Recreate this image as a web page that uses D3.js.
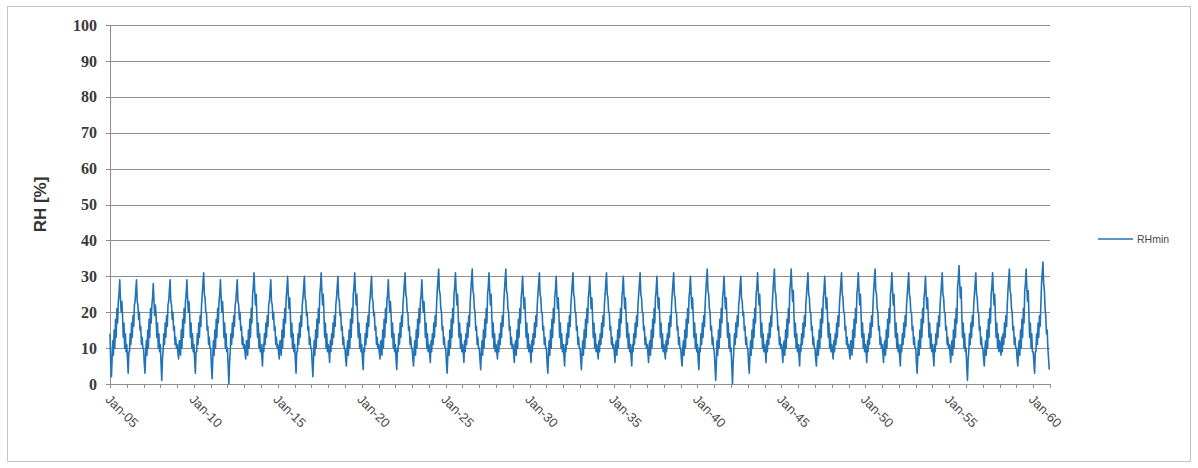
<!DOCTYPE html>
<html>
<head>
<meta charset="utf-8">
<script src="https://cdn.jsdelivr.net/npm/d3@7"></script>
<style>
  body { margin: 0; background: #fff; }
  svg { display: block; }
</style>
</head>
<body>
<svg id="chart" width="1198" height="468"></svg>
<script>
// Minimum relative humidity, two readings per month (1st and 16th), one row per year from 2005.
const startYear = 2005;
const seriesName = "RHmin";
const yTicks = [0, 10, 20, 30, 40, 50, 60, 70, 80, 90, 100];
const labelYears = [2005, 2010, 2015, 2020, 2025, 2030, 2035, 2040, 2045, 2050, 2055, 2060];
const yTitle = "RH [%]";

const rhMin = [
  [14, 6, 2, 7, 12, 8, 15, 10, 18, 13, 21, 17, 23, 25, 29, 24, 20, 23, 19, 13, 17, 10, 14, 9], // 2005
  [11, 7, 3, 9, 9, 14, 11, 17, 13, 19, 16, 22, 23, 26, 29, 23, 22, 18, 20, 15, 16, 11, 13, 10],
  [10, 6, 3, 8, 12, 8, 15, 10, 18, 13, 21, 17, 22, 24, 28, 23, 19, 22, 19, 13, 17, 10, 14, 9],
  [11, 6, 1, 7, 9, 14, 11, 17, 13, 19, 16, 22, 23, 26, 29, 23, 22, 18, 20, 15, 16, 11, 13, 10],
  [11, 9, 7, 12, 12, 8, 15, 10, 18, 13, 21, 17, 23, 25, 29, 24, 20, 23, 19, 13, 17, 10, 14, 9],
  [11, 7, 3, 9, 9, 14, 11, 17, 13, 19, 16, 22, 25, 28, 31, 25, 24, 20, 20, 15, 16, 11, 13, 10], // 2010
  [10, 5, 1.5, 7, 12, 8, 15, 10, 18, 13, 21, 17, 23, 25, 29, 24, 20, 23, 19, 13, 17, 10, 14, 9],
  [10, 5, 0, 6, 9, 14, 11, 17, 13, 19, 16, 22, 23, 26, 29, 23, 22, 18, 20, 15, 16, 11, 13, 10],
  [11, 9, 7, 12, 12, 8, 15, 10, 18, 13, 21, 17, 25, 27, 31, 26, 22, 25, 19, 13, 17, 10, 14, 9],
  [11, 8, 5, 11, 9, 14, 11, 17, 13, 19, 16, 22, 23, 26, 29, 23, 22, 18, 20, 15, 16, 11, 13, 10],
  [11, 9, 7, 12, 12, 8, 15, 10, 18, 13, 21, 17, 24, 26, 30, 25, 21, 24, 19, 13, 17, 10, 14, 9], // 2015
  [11, 7, 3, 9, 9, 14, 11, 17, 13, 19, 16, 22, 24, 27, 30, 24, 23, 19, 20, 15, 16, 11, 13, 10],
  [10, 6, 2, 7, 12, 8, 15, 10, 18, 13, 21, 17, 25, 27, 31, 26, 22, 25, 19, 13, 17, 10, 14, 9],
  [11, 9, 6, 12, 9, 14, 11, 17, 13, 19, 16, 22, 24, 27, 30, 24, 23, 19, 20, 15, 16, 11, 13, 10],
  [10, 7, 5, 10, 12, 8, 15, 10, 18, 13, 21, 17, 25, 27, 31, 26, 22, 25, 19, 13, 17, 10, 14, 9],
  [11, 7, 4, 10, 9, 14, 11, 17, 13, 19, 16, 22, 24, 27, 30, 24, 23, 19, 20, 15, 16, 11, 13, 10], // 2020
  [11, 9, 7, 12, 12, 8, 15, 10, 18, 13, 21, 17, 23, 25, 29, 24, 20, 23, 19, 13, 17, 10, 14, 9],
  [11, 7, 4, 10, 9, 14, 11, 17, 13, 19, 16, 22, 25, 28, 31, 25, 24, 20, 20, 15, 16, 11, 13, 10],
  [10, 7, 5, 10, 12, 8, 15, 10, 18, 13, 21, 17, 23, 25, 29, 24, 20, 23, 19, 13, 17, 10, 14, 9],
  [11, 9, 6, 12, 9, 14, 11, 17, 13, 19, 16, 22, 26, 29, 32, 26, 25, 21, 20, 15, 16, 11, 13, 10],
  [10, 6, 3, 8, 12, 8, 15, 10, 18, 13, 21, 17, 25, 27, 31, 26, 22, 25, 19, 13, 17, 10, 14, 9], // 2025
  [11, 9, 6, 12, 9, 14, 11, 17, 13, 19, 16, 22, 26, 29, 32, 26, 25, 21, 20, 15, 16, 11, 13, 10],
  [10, 7, 4, 9, 12, 8, 15, 10, 18, 13, 21, 17, 25, 27, 31, 26, 22, 25, 19, 13, 17, 10, 14, 9],
  [11, 9, 7, 12, 9, 14, 11, 17, 13, 19, 16, 22, 26, 29, 32, 26, 25, 21, 20, 15, 16, 11, 13, 10],
  [11, 9, 6, 11, 12, 8, 15, 10, 18, 13, 21, 17, 24, 26, 30, 25, 21, 24, 19, 13, 17, 10, 14, 9],
  [11, 9, 6, 12, 9, 14, 11, 17, 13, 19, 16, 22, 25, 28, 31, 25, 24, 20, 20, 15, 16, 11, 13, 10], // 2030
  [10, 6, 3, 8, 12, 8, 15, 10, 18, 13, 21, 17, 24, 26, 30, 25, 21, 24, 19, 13, 17, 10, 14, 9],
  [11, 8, 5, 11, 9, 14, 11, 17, 13, 19, 16, 22, 25, 28, 31, 25, 24, 20, 20, 15, 16, 11, 13, 10],
  [10, 7, 4, 9, 12, 8, 15, 10, 18, 13, 21, 17, 24, 26, 30, 25, 21, 24, 19, 13, 17, 10, 14, 9],
  [11, 9, 7, 12, 9, 14, 11, 17, 13, 19, 16, 22, 25, 28, 31, 25, 24, 20, 20, 15, 16, 11, 13, 10],
  [11, 9, 6, 11, 12, 8, 15, 10, 18, 13, 21, 17, 24, 26, 30, 25, 21, 24, 19, 13, 17, 10, 14, 9], // 2035
  [11, 8, 5, 11, 9, 14, 11, 17, 13, 19, 16, 22, 25, 28, 31, 25, 24, 20, 20, 15, 16, 11, 13, 10],
  [11, 9, 6, 11, 12, 8, 15, 10, 18, 13, 21, 17, 24, 26, 30, 25, 21, 24, 19, 13, 17, 10, 14, 9],
  [11, 9, 7, 12, 9, 14, 11, 17, 13, 19, 16, 22, 25, 28, 31, 25, 24, 20, 20, 15, 16, 11, 13, 10],
  [10, 7, 5, 10, 12, 8, 15, 10, 18, 13, 21, 17, 24, 26, 30, 25, 21, 24, 19, 13, 17, 10, 14, 9],
  [11, 7, 4, 10, 9, 14, 11, 17, 13, 19, 16, 22, 26, 29, 32, 26, 25, 21, 20, 15, 16, 11, 13, 10], // 2040
  [9, 5, 1, 6, 12, 8, 15, 10, 18, 13, 21, 17, 24, 26, 30, 25, 21, 24, 19, 13, 17, 10, 14, 9],
  [10, 5, 0, 6, 9, 14, 11, 17, 13, 19, 16, 22, 24, 27, 30, 24, 23, 19, 20, 15, 16, 11, 13, 10],
  [10, 6, 3, 8, 12, 8, 15, 10, 18, 13, 21, 17, 25, 27, 31, 26, 22, 25, 19, 13, 17, 10, 14, 9],
  [11, 9, 6, 12, 9, 14, 11, 17, 13, 19, 16, 22, 26, 29, 32, 26, 25, 21, 20, 15, 16, 11, 13, 10],
  [11, 9, 6, 11, 12, 8, 15, 10, 18, 13, 21, 17, 26, 28, 32, 27, 23, 26, 19, 13, 17, 10, 14, 9], // 2045
  [11, 8, 5, 11, 9, 14, 11, 17, 13, 19, 16, 22, 25, 28, 31, 25, 24, 20, 20, 15, 16, 11, 13, 10],
  [10, 7, 5, 10, 12, 8, 15, 10, 18, 13, 21, 17, 24, 26, 30, 25, 21, 24, 19, 13, 17, 10, 14, 9],
  [11, 9, 7, 12, 9, 14, 11, 17, 13, 19, 16, 22, 25, 28, 31, 25, 24, 20, 20, 15, 16, 11, 13, 10],
  [11, 9, 7, 12, 12, 8, 15, 10, 18, 13, 21, 17, 25, 27, 31, 26, 22, 25, 19, 13, 17, 10, 14, 9],
  [11, 9, 6, 12, 9, 14, 11, 17, 13, 19, 16, 22, 26, 29, 32, 26, 25, 21, 20, 15, 16, 11, 13, 10], // 2050
  [11, 9, 6, 11, 12, 8, 15, 10, 18, 13, 21, 17, 25, 27, 31, 26, 22, 25, 19, 13, 17, 10, 14, 9],
  [11, 8, 5, 11, 9, 14, 11, 17, 13, 19, 16, 22, 25, 28, 31, 25, 24, 20, 20, 15, 16, 11, 13, 10],
  [10, 6, 3, 8, 12, 8, 15, 10, 18, 13, 21, 17, 24, 26, 30, 25, 21, 24, 19, 13, 17, 10, 14, 9],
  [11, 8, 5, 11, 9, 14, 11, 17, 13, 19, 16, 22, 25, 28, 31, 25, 24, 20, 20, 15, 16, 11, 13, 10],
  [11, 9, 6, 11, 12, 8, 15, 10, 18, 13, 21, 17, 27, 29, 33, 28, 24, 27, 19, 13, 17, 10, 14, 9], // 2055
  [10, 5, 1, 7, 9, 14, 11, 17, 13, 19, 16, 22, 25, 28, 31, 25, 24, 20, 20, 15, 16, 11, 13, 10],
  [10, 7, 5, 10, 12, 8, 15, 10, 18, 13, 21, 17, 25, 27, 31, 26, 22, 25, 19, 13, 17, 10, 14, 9],
  [12, 10, 8, 13, 9, 14, 11, 17, 13, 19, 16, 22, 26, 29, 32, 26, 25, 21, 20, 15, 16, 11, 13, 10],
  [10, 7, 5, 10, 12, 8, 15, 10, 18, 13, 21, 17, 26, 28, 32, 27, 23, 26, 19, 13, 17, 10, 14, 9],
  [9, 6, 3, 9, 9, 14, 11, 17, 13, 19, 16, 22, 28, 31, 34, 28, 26, 21, 19, 14, 15, 10, 7, 4]  // 2060
];

const W = 1198, H = 468;
const plot = { left: 110, right: 1050, top: 25, bottom: 384 };
const lineColor = "#2272b6";

const svg = d3.select("#chart");

// chart frame
svg.append("rect")
  .attr("x", 7.5).attr("y", 6.5)
  .attr("width", W - 15).attr("height", H - 13)
  .attr("fill", "#fff").attr("stroke", "#c4c4c4");

const endYear = startYear + rhMin.length;
const x = d3.scaleTime()
  .domain([new Date(startYear, 0, 1), new Date(endYear, 0, 1)])
  .range([plot.left, plot.right]);
const y = d3.scaleLinear().domain([0, 100]).range([plot.bottom, plot.top]);

// flatten the yearly rows into dated readings
const points = [];
rhMin.forEach((row, yi) => {
  row.forEach((v, i) => {
    points.push({ date: new Date(startYear + yi, Math.floor(i / 2), i % 2 ? 16 : 1), value: v });
  });
});

// horizontal gridlines
const grid = svg.append("g")
  .attr("transform", `translate(${plot.left},0)`)
  .call(d3.axisLeft(y).tickValues(yTicks).tickSize(-(plot.right - plot.left)).tickFormat(""));
grid.select(".domain").remove();
grid.selectAll(".tick line").attr("stroke", "#8e8e8e").attr("shape-rendering", "crispEdges");

// y axis with outward ticks and labels
const yAxis = svg.append("g")
  .attr("transform", `translate(${plot.left},0)`)
  .call(d3.axisLeft(y).tickValues(yTicks).tickSize(4).tickPadding(9));
yAxis.select(".domain").attr("stroke", "#8e8e8e").attr("shape-rendering", "crispEdges");
yAxis.selectAll(".tick line").attr("stroke", "#8e8e8e").attr("shape-rendering", "crispEdges");
yAxis.selectAll(".tick text")
  .attr("fill", "#3a3a3a")
  .style("font-family", "'Liberation Serif', 'DejaVu Serif', serif")
  .style("font-weight", "bold")
  .style("font-size", "16px");

// x axis: a tick for every year
const xAxis = svg.append("g")
  .attr("transform", `translate(0,${plot.bottom})`)
  .call(d3.axisBottom(x).ticks(d3.timeYear.every(1)).tickSize(4).tickFormat(""));
xAxis.select(".domain").attr("stroke", "#8e8e8e").attr("shape-rendering", "crispEdges");
xAxis.selectAll(".tick line").attr("stroke", "#8e8e8e").attr("shape-rendering", "crispEdges");

// rotated date labels every five years
const fmt = d3.timeFormat("%b-%y");
svg.append("g").selectAll("text")
  .data(labelYears)
  .join("text")
  .attr("transform", d => `translate(${x(new Date(d, 0, 1)) - 2},${plot.bottom + 13}) rotate(45)`)
  .attr("text-anchor", "start")
  .attr("dy", "0.35em")
  .attr("fill", "#4a4a4a")
  .style("font-family", "'Liberation Sans', Arial, sans-serif")
  .style("font-size", "13px")
  .text(d => fmt(new Date(d, 0, 1)));

// y axis title
svg.append("text")
  .attr("transform", `translate(46,${(plot.top + plot.bottom) / 2}) rotate(-90)`)
  .attr("text-anchor", "middle")
  .attr("fill", "#333")
  .style("font-family", "'Liberation Sans', Arial, sans-serif")
  .style("font-weight", "bold")
  .style("font-size", "17px")
  .text(yTitle);

// series line
const line = d3.line().x(d => x(d.date)).y(d => y(d.value));
svg.append("path")
  .datum(points)
  .attr("fill", "none")
  .attr("stroke", lineColor)
  .attr("stroke-width", 1.6)
  .attr("stroke-linejoin", "round")
  .attr("d", line);

// legend
const legend = svg.append("g").attr("transform", "translate(1098,239)");
legend.append("line").attr("x1", 0).attr("x2", 35).attr("y1", 0).attr("y2", 0)
  .attr("stroke", lineColor).attr("stroke-width", 1.5);
legend.append("text").attr("x", 39).attr("y", 0).attr("dy", "0.35em")
  .attr("fill", "#4a4a4a")
  .style("font-family", "'Liberation Sans', Arial, sans-serif")
  .style("font-size", "10.5px")
  .text(seriesName);
</script>
</body>
</html>
